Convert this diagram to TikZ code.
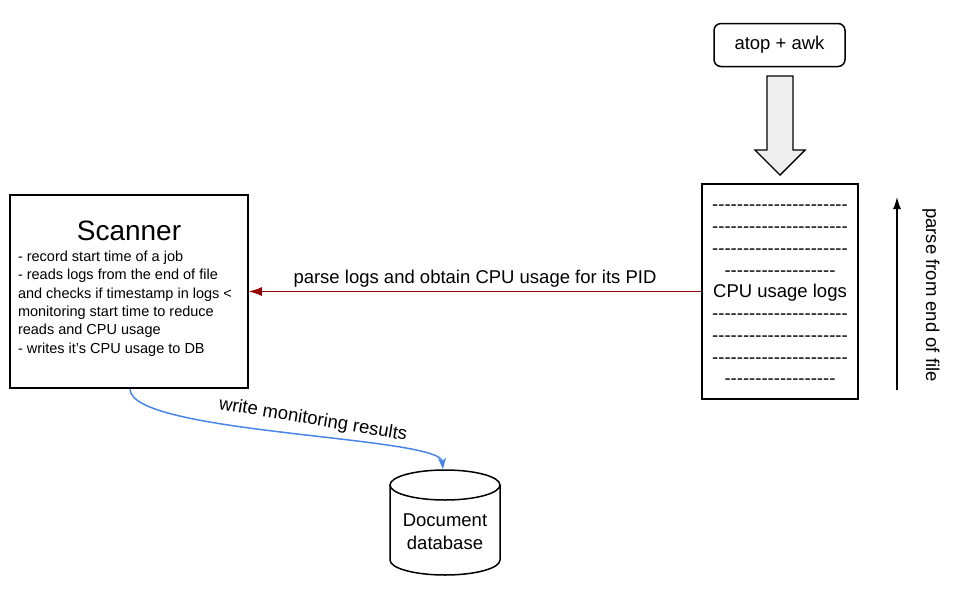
\documentclass[tikz,border=0pt]{standalone}
\usepackage{fontspec}
\setmainfont{Liberation Sans}
\usetikzlibrary{arrows.meta}
\definecolor{arrred}{HTML}{990000}
\definecolor{arrblue}{HTML}{4A86E8}
\definecolor{hollowfill}{HTML}{EEEEEE}
\newcommand\hyrow[1]{\foreach\k in {1,...,#1}{\mbox{-}}}
\begin{document}
\begin{tikzpicture}[x=1pt,y=1pt,
  font=\fontsize{18.5}{22}\selectfont,
  box/.style={draw, line width=1.5pt, inner sep=0pt},
  roundbox/.style={draw, line width=1.5pt, rounded corners=7pt, inner sep=0pt},
  plain/.style={inner sep=0pt, outer sep=0pt}]
\useasboundingbox (0,0) rectangle (969,-592);
% Scanner
\node[box, minimum width=238, minimum height=193] (scan) at (129,-291.5) {};
\node[plain, font=\fontsize{28}{30}\selectfont] (title) at (129,-231) {Scanner};
\node[plain, anchor=north west, align=left, font=\fontsize{14.5}{18.3}\selectfont] (body) at (18,-251)
 {- record start time of a job\\
  - reads logs from the end of file\\
  and checks if timestamp in logs <\\
  monitoring start time to reduce\\
  reads and CPU usage\\
  - writes it’s CPU usage to DB};
% atop + awk
\node[roundbox, minimum width=131, minimum height=43] (atop) at (779.5,-45) {atop + awk};
% hollow arrow
\draw[line width=1.4pt, fill=hollowfill, line join=miter]
  (767,-76) -- (793,-76) -- (793,-150) -- (805,-150) -- (780,-175) -- (755,-150) -- (767,-150) -- cycle;
% log box
\node[box, minimum width=156, minimum height=215] (log) at (780,-291.5) {};
\node[plain, align=center, font=\fontsize{18.5}{21.75}\selectfont] (logtext) at (780,-295)
 {\hyrow{22}\\ \hyrow{22}\\ \hyrow{22}\\ \hyrow{18}\\ CPU usage logs\\ \hyrow{22}\\ \hyrow{22}\\ \hyrow{22}\\ \hyrow{18}};
% parse arrow
\coordinate (pbot) at (897,-390);
\coordinate (ptop) at (897,-197);
\draw[line width=1.3pt, -{Latex[length=12pt,width=8pt]}] (pbot) -- (ptop);
\node[plain, rotate=-90] (ptext) at (931,-295) {parse from end of file};
% red arrow
\draw[arrred, line width=1.4pt, -{Latex[length=13pt,width=9pt]}] (log.west) --
  node[midway, anchor=base, yshift=8.5pt, text=black] (plabel) {parse logs and obtain CPU usage for its PID} (scan.east);
% database
\draw[line width=1.5pt, fill=white] (390,-485) -- (390,-560) arc[start angle=180, end angle=360, x radius=55, y radius=15] -- (500,-485);
\draw[line width=1.5pt] (445,-485) ellipse [x radius=55, y radius=15];
\coordinate (dbtop) at (443,-469);
\node[plain, align=center, font=\fontsize{18.5}{23}\selectfont] (db) at (445,-532) {Document\\database};
% blue curve
\draw[arrblue, line width=1.5pt, -{Stealth[length=11pt,width=8pt,inset=3pt]}]
  (130,-389) .. controls (130,-434) and (440,-436) .. (dbtop);
\node[plain, rotate=-9.5] (wlabel) at (313,-420) {write monitoring results};
\end{tikzpicture}
\end{document}
